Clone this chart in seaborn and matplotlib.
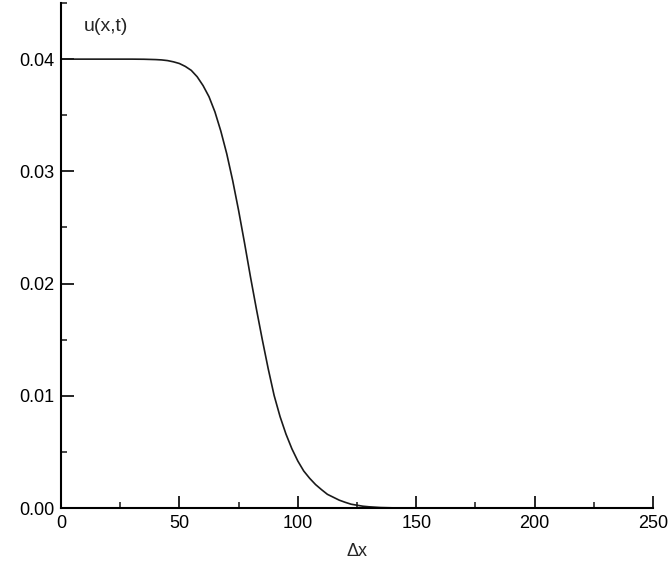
import numpy as np
import pandas as pd
import matplotlib
matplotlib.use("Agg")
import matplotlib.pyplot as plt
from matplotlib.ticker import MultipleLocator
import seaborn as sns

# ---------------------------------------------------------------
# values
# ---------------------------------------------------------------
dx = [0, 10, 20, 30, 35, 40, 42.5, 45, 47.5, 50, 52.5, 55, 57.5, 60, 62.5,
      65, 67.5, 70, 72.5, 75, 77.5, 80, 82.5, 85, 87.5, 90, 92.5, 95, 97.5,
      100, 102.5, 105, 107.5, 110, 112.5, 115, 117.5, 120, 122.5, 125, 127.5,
      130, 135, 140, 145, 150, 175, 200, 220]
u = [0.0400, 0.0400, 0.0400, 0.0400, 0.03999, 0.03996, 0.03993, 0.03987,
     0.03976, 0.03961, 0.03935, 0.03900, 0.03843, 0.03764, 0.03665, 0.03530,
     0.03358, 0.03156, 0.02918, 0.02651, 0.02362, 0.02061, 0.01775, 0.01501,
     0.01241, 0.01003, 0.00815, 0.00659, 0.00528, 0.00419, 0.00330, 0.00265,
     0.00209, 0.00164, 0.00122, 0.00096, 0.00070, 0.00051, 0.00034, 0.00025,
     0.00016, 0.00011, 0.000042, 0.000016, 0.000005, 0.0, 0.0, 0.0, 0.0]

x_ticks = [0, 50, 100, 150, 200, 250]
y_ticks = [0.00, 0.01, 0.02, 0.03, 0.04]

df = pd.DataFrame({"dx": dx, "u": u})

sns.set_style("ticks")
plt.rcParams['font.family'] = ['Liberation Sans', 'DejaVu Sans']

fig = plt.figure(figsize=(6.72, 5.71), dpi=100)
ax = fig.add_axes([0.0908, 0.1103, 0.8809, 0.8844])

sns.lineplot(data=df, x="dx", y="u", ax=ax, color="#1a1a1a", linewidth=1.2)

ax.set_xlim(0, 250)
ax.set_ylim(0, 0.045)
ax.set_xticks(x_ticks)
ax.set_yticks(y_ticks)
ax.set_xticklabels([str(t) for t in x_ticks])
ax.set_yticklabels([f"{t:.2f}" for t in y_ticks])
ax.xaxis.set_minor_locator(MultipleLocator(25))
ax.yaxis.set_minor_locator(MultipleLocator(0.005))

ax.tick_params(which="major", direction="in", length=9, width=1.2,
               labelsize=13, colors="black", pad=5)
ax.tick_params(which="minor", direction="in", length=4.5, width=1.2)

for s in ["top", "right"]:
    ax.spines[s].set_visible(False)
for s in ["left", "bottom"]:
    ax.spines[s].set_linewidth(1.5)
    ax.spines[s].set_color("black")

ax.set_xlabel("Δx", fontsize=13, labelpad=8)
ax.set_ylabel("")
ax.text(9.5, 0.0429, "u(x,t)", fontsize=14, va="center", ha="left")

fig.savefig("out.png", dpi=100)
